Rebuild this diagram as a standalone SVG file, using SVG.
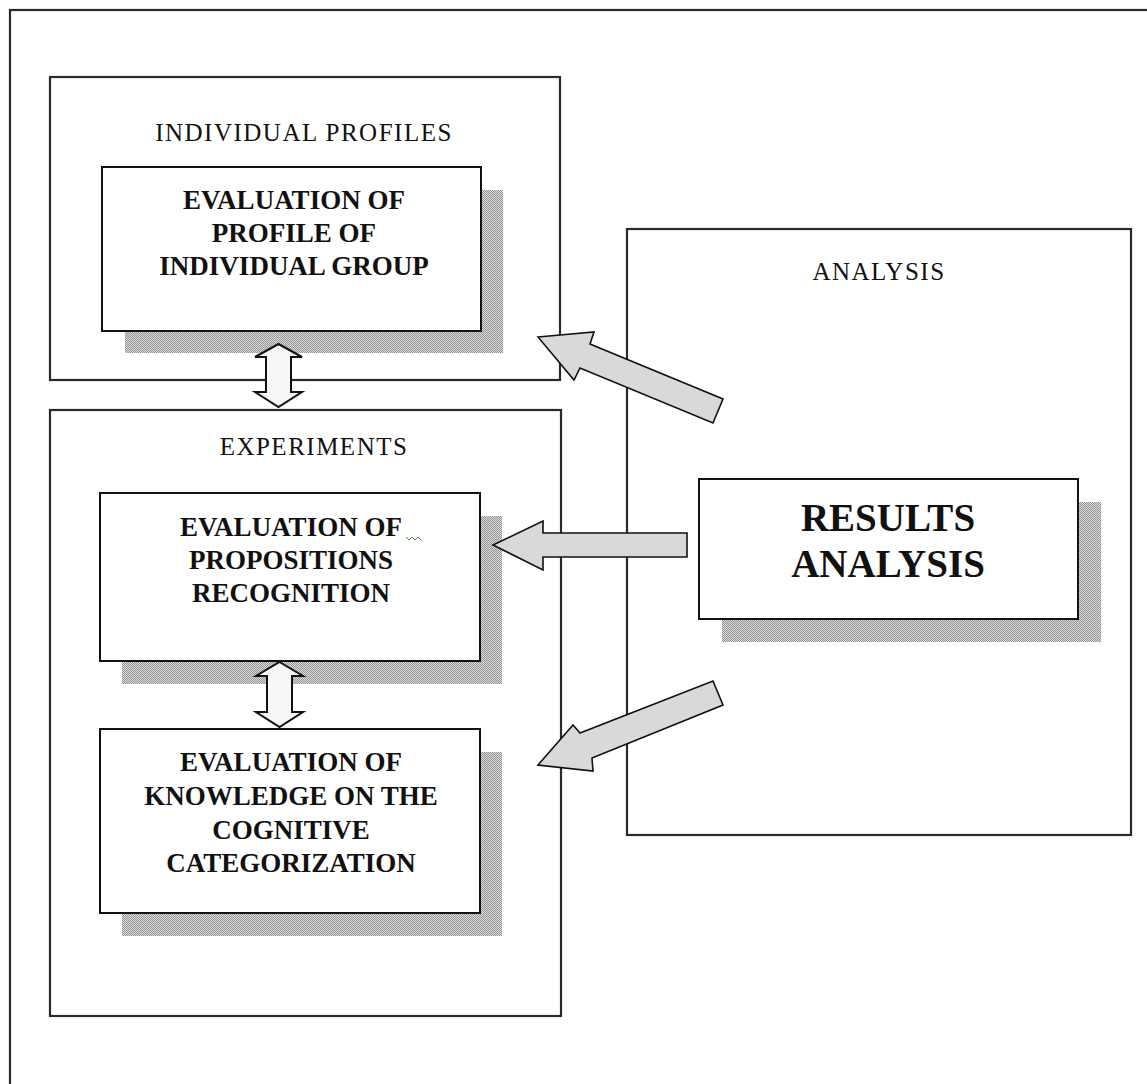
<svg xmlns="http://www.w3.org/2000/svg" width="1147" height="1084" viewBox="0 0 1147 1084">
  <defs>
    <pattern id="dots" width="2" height="2" patternUnits="userSpaceOnUse">
      <rect width="2" height="2" fill="#dadada"/>
      <rect width="1" height="1" fill="#959595"/>
      <rect x="1" y="1" width="1" height="1" fill="#959595"/>
    </pattern>
  </defs>
  <style>
    .frame { fill: none; stroke: #2a2a2a; stroke-width: 2.2; }
    .box { fill: #ffffff; stroke: #111; stroke-width: 2; }
    .shadow { fill: url(#dots); stroke: none; }
    .title { font-family: "Liberation Serif", "Times New Roman", serif; font-size: 25px; letter-spacing: 1.5px; fill: #111; text-anchor: middle; }
    .label { font-family: "Liberation Serif", "Times New Roman", serif; font-size: 27px; font-weight: bold; fill: #111; text-anchor: middle; }
    .big { font-family: "Liberation Serif", "Times New Roman", serif; font-size: 39px; font-weight: bold; fill: #111; text-anchor: middle; }
    .grayarrow { fill: #d9d9d9; stroke: #111; stroke-width: 1.6; stroke-linejoin: miter; }
    .whitearrow { fill: #f7f7f7; stroke: #111; stroke-width: 2; stroke-linejoin: miter; }
  </style>
  <rect x="0" y="0" width="1147" height="1084" fill="#ffffff"/>
  <rect x="10" y="10" width="1150" height="1090" class="frame"/>

  <g id="individual-profiles">
    <rect x="50" y="77" width="510" height="303" class="frame"/>
    <text x="304" y="141" class="title">INDIVIDUAL PROFILES</text>
  </g>

  <g id="experiments">
    <rect x="50" y="410" width="511" height="606" class="frame"/>
    <text x="314" y="455" class="title">EXPERIMENTS</text>
  </g>

  <g id="analysis">
    <rect x="627" y="229" width="504" height="606" class="frame"/>
    <text x="879" y="280" class="title">ANALYSIS</text>
  </g>

  <g id="eval-profile">
    <rect x="125" y="190" width="378" height="163" class="shadow"/>
    <rect x="102" y="167" width="379" height="164" class="box"/>
    <text class="label"><tspan x="294" y="209">EVALUATION OF</tspan><tspan x="294" y="242">PROFILE OF</tspan><tspan x="294" y="275">INDIVIDUAL GROUP</tspan></text>
  </g>

  <g id="eval-propositions">
    <rect x="122" y="516" width="380" height="168" class="shadow"/>
    <rect x="100" y="493" width="380" height="168" class="box"/>
    <text class="label"><tspan x="291" y="536">EVALUATION OF</tspan><tspan x="291" y="569">PROPOSITIONS</tspan><tspan x="291" y="602">RECOGNITION</tspan></text>
    <polyline points="406,537 409,540 412,537 415,540 418,537 421,540" fill="none" stroke="#3a9a3a" stroke-width="1"/>
  </g>

  <g id="eval-knowledge">
    <rect x="122" y="752" width="380" height="184" class="shadow"/>
    <rect x="100" y="729" width="380" height="184" class="box"/>
    <text class="label"><tspan x="291" y="771">EVALUATION OF</tspan><tspan x="291" y="805">KNOWLEDGE ON THE</tspan><tspan x="291" y="839">COGNITIVE</tspan><tspan x="291" y="872">CATEGORIZATION</tspan></text>
  </g>

  <g id="results-analysis">
    <rect x="722" y="502" width="379" height="140" class="shadow"/>
    <rect x="699" y="479" width="379" height="140" class="box"/>
    <text class="big"><tspan x="888" y="531">RESULTS</tspan><tspan x="888" y="577">ANALYSIS</tspan></text>
  </g>

  <g id="connectors">
    <polygon class="whitearrow" points="278.5,344 302,357 291,357 291,392 302,392 278.5,407 255,392 266,392 266,357 255,357"/>
    <polygon class="whitearrow" points="279.5,662 303,676 292,676 292,712 303,712 279.5,727 256,712 267,712 267,676 256,676"/>
    <polygon class="grayarrow" points="538,337 594,332 590,344 723,399 713,423 580,368 574,380"/>
    <polygon class="grayarrow" points="493,545 543,521 543,533 687,533 687,557 543,557 543,570"/>
    <polygon class="grayarrow" points="538,765 573,725 580,733 713,681 723,705 592,758 593,771"/>
  </g>
</svg>
